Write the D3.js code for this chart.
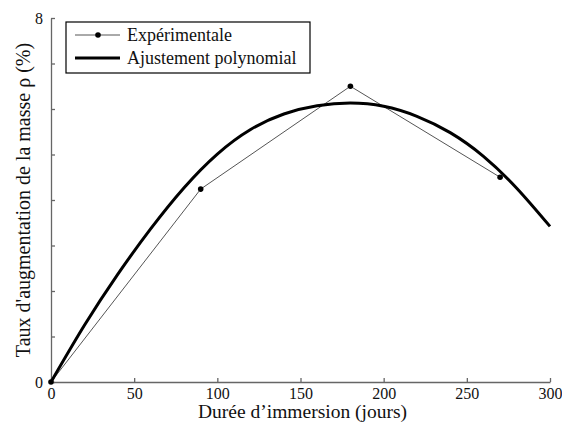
<!DOCTYPE html>
<html>
<head>
<meta charset="utf-8">
<script src="https://cdn.jsdelivr.net/npm/d3@7"></script>
<style>
  body { margin: 0; background: #fff; }
  text { font-family: "Liberation Serif", "Times New Roman", serif; }
</style>
</head>
<body>
<div id="container"></div>
<script>
/* DATA */
const expDays = [0, 90, 180, 270];
const expValues = [0, 4.24, 6.5, 4.5];

// polynomial fit, every 20 days
const fitDays = [0, 20, 40, 60, 80, 100, 120, 140, 160, 180, 200, 220, 240, 260, 280, 300];
const fitValues = [0, 1.24, 2.36, 3.37, 4.27, 5.01, 5.55, 5.89, 6.07, 6.13, 6.06, 5.84, 5.48, 4.96, 4.26, 3.42];

const xTicks = [0, 50, 100, 150, 200, 250, 300];
const yTicks = [0, 1, 2, 3, 4, 5, 6, 7, 8];
const yLabelTicks = [0, 8];

const legendLabels = ["Expérimentale", "Ajustement polynomial"];

/* CONSTANTS */
const width = 562,
  height = 426,
  margin = {top: 18, bottom: 44, left: 51, right: 12};

const svg = d3.select("#container")
  .append("svg")
  .attr("width", width)
  .attr("height", height);

const xScale = d3.scaleLinear()
  .domain([0, 300])
  .range([margin.left, width - margin.right]);

const yScale = d3.scaleLinear()
  .domain([0, 8])
  .range([height - margin.bottom, margin.top]);

// + AXES (ticks pointing inward)
const xAxis = d3.axisBottom(xScale)
  .tickValues(xTicks)
  .tickSizeInner(-4)
  .tickSizeOuter(0)
  .tickPadding(6);

const yAxis = d3.axisLeft(yScale)
  .tickValues(yTicks)
  .tickSizeInner(-4)
  .tickSizeOuter(0)
  .tickPadding(8)
  .tickFormat(d => yLabelTicks.includes(d) ? d : "");

const xAxisGroup = svg.append("g")
  .attr("transform", `translate(0, ${height - margin.bottom})`)
  .call(xAxis);

const yAxisGroup = svg.append("g")
  .attr("transform", `translate(${margin.left}, 0)`)
  .call(yAxis);

[xAxisGroup, yAxisGroup].forEach(g => {
  g.select(".domain").attr("stroke", "#666").attr("stroke-width", 1.3);
  g.selectAll(".tick line").attr("stroke", "#666").attr("stroke-width", 1.3);
  g.selectAll(".tick text")
    .attr("fill", "#111")
    .style("font-family", "Liberation Serif")
    .style("font-size", "16px");
});

// + AXIS TITLES
svg.append("text")
  .attr("x", xScale(150) + 2)
  .attr("y", 418)
  .attr("text-anchor", "middle")
  .style("font-size", "19.5px")
  .attr("fill", "#111")
  .text("Durée d’immersion (jours)");

svg.append("text")
  .attr("transform", `translate(30, ${yScale(4)}) rotate(-90)`)
  .attr("text-anchor", "middle")
  .style("font-size", "20px")
  .attr("fill", "#111")
  .text("Taux d'augmentation de la masse ρ (%)");

// + LINES
const expLine = d3.line()
  .x((d, i) => xScale(expDays[i]))
  .y(d => yScale(d));

const fitLine = d3.line()
  .x((d, i) => xScale(fitDays[i]))
  .y(d => yScale(d))
  .curve(d3.curveNatural);

svg.append("path")
  .datum(expValues)
  .attr("fill", "none")
  .attr("stroke", "#555")
  .attr("stroke-width", 1)
  .attr("d", expLine);

svg.append("path")
  .datum(fitValues)
  .attr("fill", "none")
  .attr("stroke", "#000")
  .attr("stroke-width", 3)
  .attr("d", fitLine);

svg.selectAll("circle.exp")
  .data(expValues)
  .join("circle")
  .attr("class", "exp")
  .attr("cx", (d, i) => xScale(expDays[i]))
  .attr("cy", d => yScale(d))
  .attr("r", 2.8)
  .attr("fill", "#000");

// + LEGEND
const legend = svg.append("g").attr("transform", "translate(66, 22)");

legend.append("rect")
  .attr("width", 244)
  .attr("height", 51)
  .attr("fill", "#fff")
  .attr("stroke", "#000")
  .attr("stroke-width", 1.2);

legend.append("line")
  .attr("x1", 9).attr("x2", 54)
  .attr("y1", 13).attr("y2", 13)
  .attr("stroke", "#555").attr("stroke-width", 1);

legend.append("circle")
  .attr("cx", 32).attr("cy", 13).attr("r", 2.8)
  .attr("fill", "#000");

legend.append("line")
  .attr("x1", 9).attr("x2", 54)
  .attr("y1", 36).attr("y2", 36)
  .attr("stroke", "#000").attr("stroke-width", 3);

legend.selectAll("text.lab")
  .data(legendLabels)
  .join("text")
  .attr("class", "lab")
  .attr("x", 61)
  .attr("y", (d, i) => 13 + i * 23)
  .attr("dy", "0.35em")
  .style("font-size", "18px")
  .attr("fill", "#111")
  .text(d => d);
</script>
</body>
</html>
